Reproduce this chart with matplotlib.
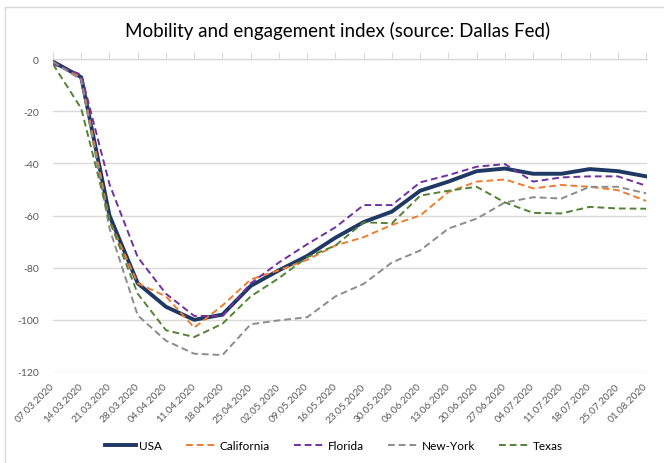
import matplotlib
matplotlib.use("Agg")
import matplotlib.pyplot as plt
from matplotlib.lines import Line2D
from matplotlib.transforms import ScaledTranslation

dates = ["07.03.2020", "14.03.2020", "21.03.2020", "28.03.2020", "04.04.2020", "11.04.2020",
         "18.04.2020", "25.04.2020", "02.05.2020", "09.05.2020", "16.05.2020", "23.05.2020",
         "30.05.2020", "06.06.2020", "13.06.2020", "20.06.2020", "27.06.2020", "04.07.2020",
         "11.07.2020", "18.07.2020", "25.07.2020", "01.08.2020"]

usa = [-1, -7, -60, -86, -95, -100, -98, -87, -81, -75.5, -68.5, -62.5, -58.5, -50.5, -47,
       -43, -42, -44, -44, -42.2, -43, -45]
california = [-1.5, -7, -62, -86, -91, -103, -94.5, -84.5, -81, -77, -71.5, -68.3, -63.6, -60,
              -51, -47, -46.2, -49.6, -48.3, -49, -50.3, -54.4]
florida = [-2, -6, -48, -76, -90, -98.5, -98.5, -86, -78, -71, -64.5, -56, -56, -47.3, -44.5,
           -41.3, -40.3, -47, -45.4, -45, -45, -48.6]
new_york = [-1, -8, -65, -98.3, -108, -113, -113.5, -101.7, -100.2, -99, -91, -86.2, -78, -73.4,
            -65, -61.2, -55, -53, -53.5, -49, -49, -51.5]
texas = [-2, -19, -62, -90, -104, -106.6, -101.5, -91, -84, -76, -71.5, -62.6, -63, -52.4,
         -50.5, -49, -55, -59, -59.2, -56.7, -57.3, -57.4]

yticks = [0, -20, -40, -60, -80, -100, -120]

series = [
    ("USA", usa, "#1f3864", "-", 2.8),
    ("California", california, "#ed7d31", (0, (3.5, 2)), 1.4),
    ("Florida", florida, "#7030a0", (0, (3.5, 2)), 1.4),
    ("New-York", new_york, "#8c8c8c", (0, (3.5, 2)), 1.4),
    ("Texas", texas, "#548235", (0, (3.5, 2)), 1.4),
]

plt.rcParams['font.family'] = ['Lato', 'DejaVu Sans']

fig = plt.figure(figsize=(6.64, 4.64), dpi=100)
W, H = 664, 464
ax = fig.add_axes([53 / W, 1 - 373 / H, (647 - 53) / W, (373 - 60) / H])

x = list(range(len(dates)))
for name, vals, col, ls, lw in series:
    ax.plot(x, vals, color=col, linestyle=ls, linewidth=lw, label=name,
            solid_joinstyle='round', dash_capstyle='butt', zorder=3 if name != "USA" else 2)

ax.set_xlim(0, len(dates) - 1 + 0.03)
ax.set_ylim(min(yticks), max(yticks))
ax.set_yticks(yticks)
ax.set_yticklabels([str(t) for t in yticks])
ax.set_xticks(x)
ax.set_xticklabels(dates, rotation=45, ha='right', va='center', rotation_mode='anchor')
offset = ScaledTranslation(5 / 100, 0, fig.dpi_scale_trans)
for lbl in ax.get_xticklabels():
    lbl.set_transform(lbl.get_transform() + offset)
ax.grid(axis='y', color='#d9d9d9', linewidth=1)
ax.set_axisbelow(True)
for s in ['left', 'right', 'bottom']:
    ax.spines[s].set_visible(False)
ax.spines['top'].set_color('#d9d9d9')
ax.spines['top'].set_linewidth(1)
ax.tick_params(axis='x', top=True, bottom=False, labeltop=False, labelbottom=True,
               direction='out', length=5, color='#d9d9d9', labelsize=7.2,
               labelcolor='#595959', pad=4)
ax.tick_params(axis='y', length=0, labelsize=7.5, labelcolor='#595959', pad=10)

fig.text(338 / W, 1 - 31 / H, "Mobility and engagement index (source: Dallas Fed)",
         ha='center', va='center', fontsize=13.5, color='#000000')

leg = fig.legend(loc='center', bbox_to_anchor=(334 / W, 1 - 447 / H), ncol=5, frameon=False,
                 fontsize=8.5, handlelength=2.6, columnspacing=2.0, handletextpad=0.3)

# chart area border (left and top visible)
fig.add_artist(Line2D([5 / W, 5 / W], [0, 1 - 8 / H], transform=fig.transFigure,
                      color='#d9d9d9', linewidth=1))
fig.add_artist(Line2D([5 / W, 1], [1 - 8 / H, 1 - 8 / H], transform=fig.transFigure,
                      color='#d9d9d9', linewidth=1))

fig.savefig("out.png", dpi=100)
